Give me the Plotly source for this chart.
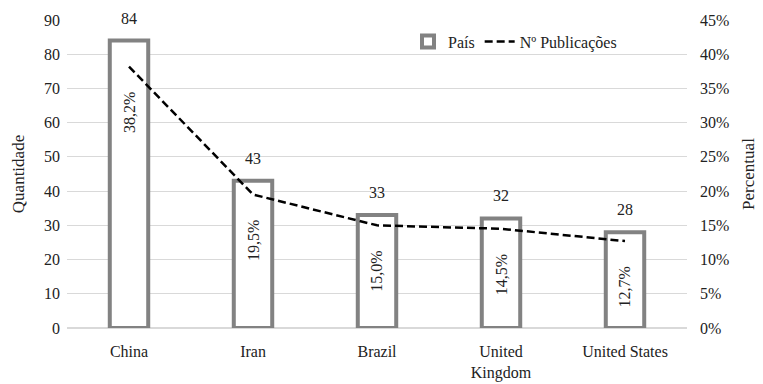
import plotly.graph_objects as go

countries = ["China", "Iran", "Brazil", "United<br>Kingdom", "United States"]
counts = [84, 43, 33, 32, 28]
percents = [0.382, 0.195, 0.150, 0.145, 0.127]
pct_labels = ["38,2%", "19,5%", "15,0%", "14,5%", "12,7%"]

FONT = "Liberation Serif"
FS = 16
TXT = "#222"
fig = go.Figure()
fig.add_trace(go.Bar(
    x=countries, y=counts, name="País", width=0.31,
    marker=dict(color="white", line=dict(color="#828282", width=4)),
    yaxis="y",
))
fig.add_trace(go.Scatter(
    x=countries, y=percents, name="Nº Publicações", mode="lines",
    line=dict(color="black", width=2.5, dash="8px,4px"), yaxis="y2",
))

for c, v in zip(countries, counts):
    fig.add_annotation(x=c, y=v, yref="y", text=str(v), showarrow=False,
                       yanchor="bottom", yshift=12,
                       font=dict(family=FONT, size=FS, color=TXT))
for c, p, t in zip(countries, percents, pct_labels):
    fig.add_annotation(x=c, y=p, yref="y2", text=t, showarrow=False, textangle=-90,
                       yanchor="top", yshift=-24,
                       font=dict(family=FONT, size=FS, color=TXT))

# the page body adds an 8px offset, compensated here
fig.update_layout(
    width=755, height=376,
    margin=dict(l=59, r=76, t=12, b=56),
    paper_bgcolor="white", plot_bgcolor="white",
    font=dict(family=FONT, size=FS, color=TXT),
    showlegend=True,
    legend=dict(orientation="h", x=0.55, y=0.93, xanchor="left", yanchor="middle",
                bgcolor="rgba(0,0,0,0)", font=dict(family=FONT, size=FS, color=TXT)),
    xaxis=dict(showgrid=False, showline=False, ticks="", ticklabelstandoff=12,
               automargin=False,
               tickfont=dict(family=FONT, size=FS, color=TXT)),
    yaxis=dict(range=[0, 90], dtick=10, showgrid=True, gridcolor="#d9d9d9", gridwidth=1,
               zeroline=True, zerolinecolor="#d9d9d9", ticklabelstandoff=6,
               automargin=False,
               title=dict(text="Quantidade", standoff=15,
                          font=dict(family=FONT, size=17, color=TXT)),
               tickfont=dict(family=FONT, size=FS, color=TXT)),
    yaxis2=dict(range=[0, 0.45], dtick=0.05, tickformat=".0%", overlaying="y", side="right",
                showgrid=False, zeroline=False, ticklabelstandoff=12,
                automargin=False,
                title=dict(text="Percentual", standoff=13,
                           font=dict(family=FONT, size=17, color=TXT)),
                tickfont=dict(family=FONT, size=FS, color=TXT)),
)
fig.write_html("out.html")
